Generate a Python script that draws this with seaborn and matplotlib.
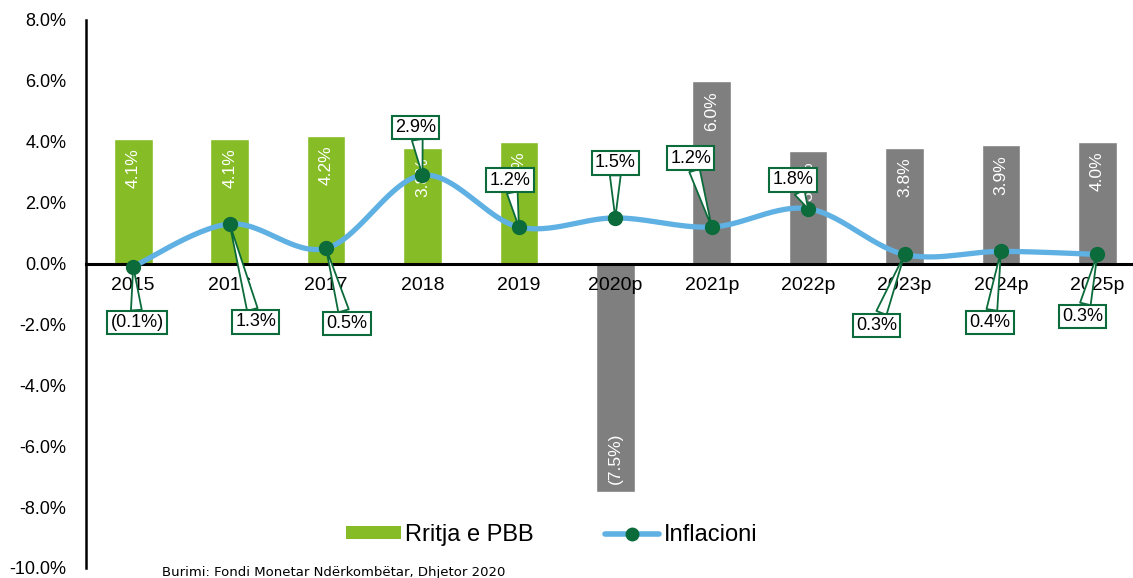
import numpy as np
import pandas as pd
import matplotlib
matplotlib.use("Agg")
import matplotlib.pyplot as plt
import seaborn as sns
from matplotlib.patches import Patch
from matplotlib.lines import Line2D

years = ['2015', '2016', '2017', '2018', '2019', '2020p', '2021p', '2022p', '2023p', '2024p', '2025p']
gdp_growth = [4.1, 4.1, 4.2, 3.8, 4.0, -7.5, 6.0, 3.7, 3.8, 3.9, 4.0]
inflation = [-0.1, 1.3, 0.5, 2.9, 1.2, 1.5, 1.2, 1.8, 0.3, 0.4, 0.3]
is_projection = [False] * 5 + [True] * 6
source = 'Burimi: Fondi Monetar Ndërkombëtar, Dhjetor 2020'

# label offsets (pixels) for the inflation callouts
lbl_dx = [4, 26, 21, -7, -9, 0, -21, -15, -28, -11, -15]
lbl_dy = [-56, -98, -75, 48, 47, 55, 69, 29, -71, -71, -62]

GREEN = '#86bc25'
GREY = '#7f7f7f'
BLUE = '#5fb0e3'
DKGREEN = '#0b6b3a'

sns.set_theme(style='white')
plt.rcParams['font.family'] = ['Liberation Sans', 'DejaVu Sans']

df = pd.DataFrame({'year': years, 'gdp': gdp_growth, 'infl': inflation})
colors = [GREY if p else GREEN for p in is_projection]

fig = plt.figure(figsize=(11.33, 5.78), dpi=100)
ax = fig.add_axes([86 / 1133, 10 / 578, 1 - 86 / 1133, 548 / 578])

sns.barplot(data=df, x='year', y='gdp', hue='year', palette=colors, legend=False,
            width=0.4, saturation=1, ax=ax, zorder=1)
ax.set_axisbelow(False)

# bar labels, white, rotated, inside the bar end
for i, v in enumerate(gdp_growth):
    txt = f'{v:.1f}%' if v >= 0 else f'({abs(v):.1f}%)'
    if v >= 0:
        ax.annotate(txt, (i, v), xytext=(0, -10), textcoords='offset pixels',
                    rotation=90, ha='center', va='top', color='white', fontsize=12.5, zorder=2)
    else:
        ax.annotate(txt, (i, v), xytext=(0, 8), textcoords='offset pixels',
                    rotation=90, ha='center', va='bottom', color='white', fontsize=12.5, zorder=2)

# smooth line (Bezier through the points, like Excel's smoothed line)
x = np.arange(len(inflation), dtype=float)
y = np.array(inflation, dtype=float)
xs, ys = [], []
for i in range(len(x) - 1):
    p0 = y[i - 1] if i > 0 else y[i]
    p1, p2 = y[i], y[i + 1]
    p3 = y[i + 2] if i + 2 < len(y) else y[i + 1]
    x0 = x[i - 1] if i > 0 else x[i]
    x3 = x[i + 2] if i + 2 < len(x) else x[i + 1]
    c1y = p1 + (p2 - p0) / 6
    c2y = p2 - (p3 - p1) / 6
    c1x = x[i] + (x[i + 1] - x0) / 6
    c2x = x[i + 1] - (x3 - x[i]) / 6
    t = np.linspace(0, 1, 30)
    bx = (1 - t) ** 3 * x[i] + 3 * (1 - t) ** 2 * t * c1x + 3 * (1 - t) * t ** 2 * c2x + t ** 3 * x[i + 1]
    by = (1 - t) ** 3 * p1 + 3 * (1 - t) ** 2 * t * c1y + 3 * (1 - t) * t ** 2 * c2y + t ** 3 * p2
    xs.extend(bx)
    ys.extend(by)
ax.plot(xs, ys, color=BLUE, lw=3.8, zorder=4, solid_capstyle='round')
ax.plot(x, y, 'o', color=DKGREEN, ms=10, zorder=5)

for i, v in enumerate(inflation):
    txt = f'{v:.1f}%' if v >= 0 else f'({abs(v):.1f}%)'
    ax.annotate(txt, (i, v), xytext=(lbl_dx[i], lbl_dy[i]), textcoords='offset pixels',
                ha='center', va='center', fontsize=13, color='black', zorder=6,
                bbox=dict(boxstyle='square,pad=0.18', fc='white', ec=DKGREEN, lw=1.5),
                arrowprops=dict(arrowstyle='wedge,tail_width=0.6', fc='white', ec=DKGREEN,
                                lw=1.3, shrinkA=0, shrinkB=0))

ax.set_ylim(-10, 8)
ax.set_xlim(-0.49, 10.37)
ax.set_yticks(np.arange(-10, 9, 2))
ax.set_yticklabels([f'{t:.1f}%' for t in np.arange(-10, 9, 2)], fontsize=13)
ax.set_xlabel('')
ax.set_ylabel('')
ax.tick_params(axis='y', length=0, pad=14, labelcolor='black')
ax.tick_params(axis='x', length=0, pad=10, labelsize=14, labelcolor='black')

for s in ['top', 'right']:
    ax.spines[s].set_visible(False)
ax.spines['bottom'].set_position(('data', 0))
ax.spines['bottom'].set_color('black')
ax.spines['bottom'].set_linewidth(2.2)
ax.spines['left'].set_color('black')
ax.spines['left'].set_linewidth(1.8)

handles = [Patch(facecolor=GREEN, edgecolor='none'),
           Line2D([0], [0], color=BLUE, lw=4, marker='o', ms=9, mfc=DKGREEN, mec=DKGREEN)]
leg = ax.legend(handles, ['Rritja e PBB', 'Inflacioni'], loc='center', bbox_to_anchor=(0.445, 0.06),
                ncol=2, frameon=False, fontsize=17, handlelength=2.3, handleheight=0.5,
                handletextpad=0.2, columnspacing=3.0)
for t in leg.get_texts():
    t.set_color('black')

fig.text(162 / 1133, 1 - 566 / 578, source, fontsize=9.5, va='top', ha='left', color='black',
         family='DejaVu Sans')

fig.savefig('out.png', dpi=100, facecolor='white')
